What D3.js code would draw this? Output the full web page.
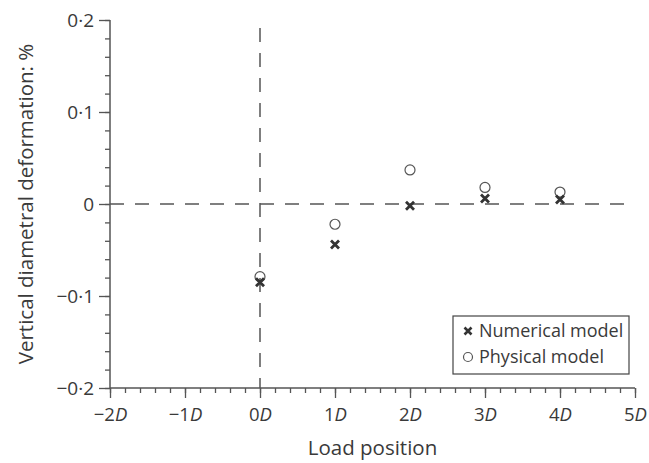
<!DOCTYPE html>
<html><head><meta charset="utf-8">
<script src="https://cdn.jsdelivr.net/npm/d3@7"></script>
<style>body{margin:0;background:#fff}</style>
</head><body>
<svg id="c" width="649" height="463"></svg>
<script>
const loadPositions = [0, 1, 2, 3, 4];
const numericalModel = [-0.085, -0.044, -0.002, 0.006, 0.005];
const physicalModel = [-0.079, -0.022, 0.037, 0.018, 0.013];
const xTickValues = [-2, -1, 0, 1, 2, 3, 4, 5];
const yTickValues = [0.2, 0.1, 0, -0.1, -0.2];
const yTickLabels = ["0·2", "0·1", "0", "−0·1", "−0·2"];
const seriesNames = ["Numerical model", "Physical model"];

const svg = d3.select("#c");
const font = "'Open Sans', sans-serif";
const textColor = "#3a3a3a";
const axisColor = "#555";

const x = d3.scaleLinear().domain([-2, 5]).range([110, 635]);
const y = d3.scaleLinear().domain([-0.2, 0.2]).range([388, 20]);

const xMinor = d3.range(-2, 5.001, 0.2).map(v => +v.toFixed(2));
const yMinor = d3.range(-0.2, 0.2001, 0.02).map(v => +v.toFixed(3));

const yAxisMinor = d3.axisLeft(y).tickValues(yMinor).tickSize(5).tickFormat("");
const yAxisMajor = d3.axisLeft(y).tickValues(yTickValues).tickSize(11).tickPadding(5)
  .tickFormat((d, i) => yTickLabels[i]);
const gyMinor = svg.append("g").attr("transform", `translate(${x(-2)},0)`).call(yAxisMinor);
const gy = svg.append("g").attr("transform", `translate(${x(-2)},0)`).call(yAxisMajor);

const xAxisMinor = d3.axisBottom(x).tickValues(xMinor).tickSize(5).tickFormat("");
const xAxisMajor = d3.axisBottom(x).tickValues(xTickValues).tickSize(10).tickFormat("");
const gxMinor = svg.append("g").attr("transform", `translate(0,${y(-0.2)})`).call(xAxisMinor);
const gx = svg.append("g").attr("transform", `translate(0,${y(-0.2)})`).call(xAxisMajor);

[gyMinor, gy, gxMinor, gx].forEach(g => {
  g.selectAll("path.domain").attr("stroke", axisColor).attr("stroke-width", 1.5);
  g.selectAll(".tick line").attr("stroke", axisColor).attr("stroke-width", 1.3);
});
gyMinor.select("path.domain").attr("d", `M0,${y(0.2)}V${y(-0.2)}`);
gxMinor.select("path.domain").attr("d", `M${x(-2)},0H${x(5)}`);
gy.select("path.domain").remove();
gx.select("path.domain").remove();

gy.selectAll(".tick text").attr("font-family", font).attr("font-size", 19).attr("fill", textColor);

gx.selectAll(".tick").each(function(d) {
  const t = d3.select(this).append("text")
    .attr("y", 33).attr("text-anchor", "middle")
    .attr("font-family", font).attr("font-size", 18.5).attr("fill", textColor);
  t.append("tspan").text(d < 0 ? "−" + Math.abs(d) : String(d));
  t.append("tspan").attr("font-style", "italic").text("D");
});

svg.append("line")
  .attr("x1", x(-2)).attr("x2", x(5)).attr("y1", y(0)).attr("y2", y(0))
  .attr("stroke", "#555").attr("stroke-width", 1.5).attr("stroke-dasharray", "14,11");
svg.append("line")
  .attr("x1", x(0)).attr("x2", x(0)).attr("y1", y(0.2) + 8).attr("y2", y(-0.2))
  .attr("stroke", "#555").attr("stroke-width", 1.5).attr("stroke-dasharray", "14,11");

svg.append("text").attr("x", x(1.5)).attr("y", 455).attr("text-anchor", "middle")
  .attr("font-family", font).attr("font-size", 20.5).attr("fill", textColor).text("Load position");
svg.append("text").attr("transform", `translate(33,${y(0)}) rotate(-90)`).attr("text-anchor", "middle")
  .attr("font-family", font).attr("font-size", 20.5).attr("fill", textColor)
  .text("Vertical diametral deformation: %");

const crossPath = s => `M${-s},${-s}L${s},${s}M${-s},${s}L${s},${-s}`;
svg.append("g").selectAll("circle").data(loadPositions).join("circle")
  .attr("cx", d => x(d)).attr("cy", (d, i) => y(physicalModel[i])).attr("r", 5)
  .attr("fill", "none").attr("stroke", "#555").attr("stroke-width", 1.2);
svg.append("g").selectAll("path").data(loadPositions).join("path")
  .attr("transform", (d, i) => `translate(${x(d)},${y(numericalModel[i])})`)
  .attr("d", crossPath(4)).attr("stroke", "#333").attr("stroke-width", 2.8);

const lg = svg.append("g");
lg.append("rect").attr("x", 453).attr("y", 316).attr("width", 176).attr("height", 58)
  .attr("fill", "#fff").attr("stroke", "#444").attr("stroke-width", 1.2);
lg.append("path").attr("transform", "translate(468,331)").attr("d", crossPath(3.5))
  .attr("stroke", "#333").attr("stroke-width", 2.6);
lg.append("circle").attr("cx", 468).attr("cy", 357).attr("r", 4.5)
  .attr("fill", "none").attr("stroke", "#555").attr("stroke-width", 1.2);
seriesNames.forEach((n, i) => {
  lg.append("text").attr("x", 479).attr("y", 337 + i * 26)
    .attr("font-family", font).attr("font-size", 18).attr("fill", textColor).text(n);
});
</script>
</body></html>
